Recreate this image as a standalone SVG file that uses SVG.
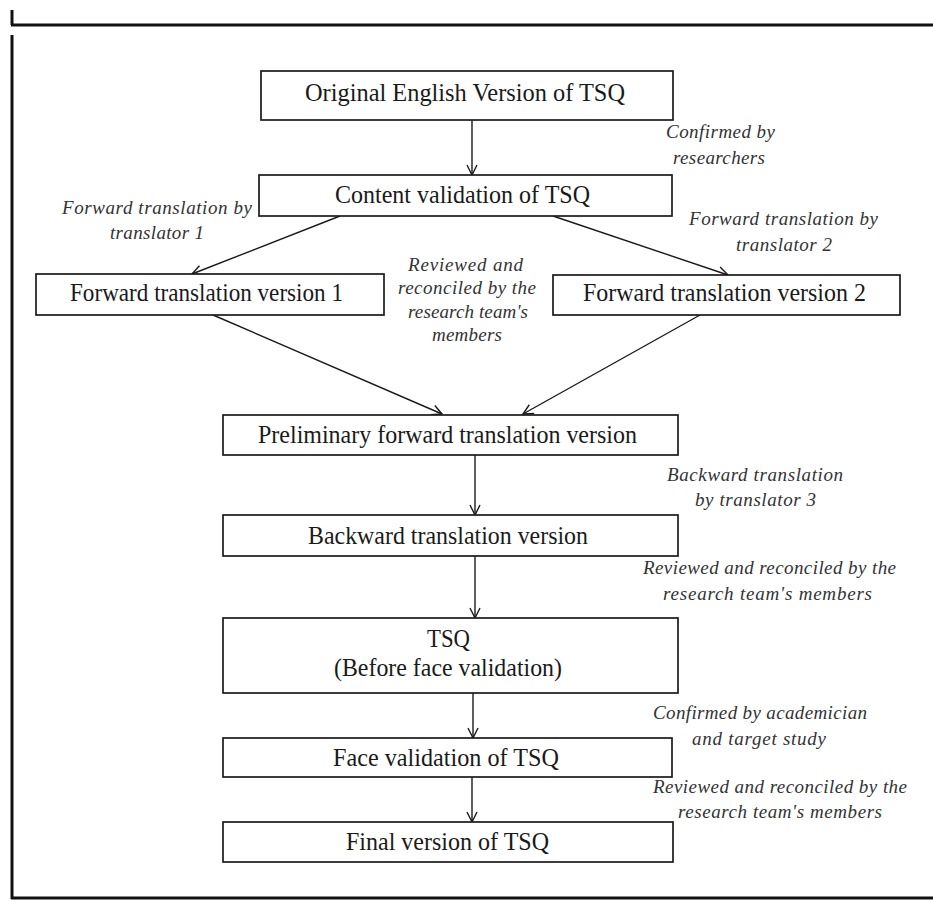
<svg xmlns="http://www.w3.org/2000/svg" width="933" height="900" viewBox="0 0 933 900">
<style>
.frame{stroke:#111;stroke-width:3;fill:none}
.box{fill:#fff;stroke:#1a1a1a;stroke-width:1.7}
.t{font-family:"Liberation Serif","Times New Roman",serif;font-size:26px;fill:#1a1a1a;text-anchor:middle}
.l{font-family:"Liberation Serif","Times New Roman",serif;font-size:19px;font-style:italic;fill:#333;text-anchor:middle}
.c{stroke:#1a1a1a;stroke-width:1.4;fill:none;marker-end:url(#ah)}
</style>
<defs>
<marker id="ah" markerUnits="userSpaceOnUse" markerWidth="12" markerHeight="12" refX="11" refY="6" orient="auto">
<path d="M1,1 L11,6 L1,11" fill="none" stroke="#1a1a1a" stroke-width="1.4"/>
</marker>
</defs>
<rect width="933" height="900" fill="#fff"/>
<g id="frame">
<line class="frame" x1="12" y1="10" x2="12" y2="25"/>
<line class="frame" x1="11" y1="25" x2="933" y2="25"/>
<line class="frame" x1="12" y1="35" x2="12" y2="899"/>
<line class="frame" x1="11" y1="898" x2="933" y2="898"/>
</g>
<g id="connectors">
<line class="c" x1="472" y1="120" x2="472" y2="175"/>
<line class="c" x1="340" y1="216" x2="192" y2="274"/>
<line class="c" x1="553" y1="216" x2="728" y2="275"/>
<line class="c" x1="213" y1="315" x2="442" y2="414"/>
<line class="c" x1="700" y1="315" x2="523" y2="414"/>
<line class="c" x1="475" y1="455" x2="475" y2="515"/>
<line class="c" x1="475" y1="556" x2="475" y2="618"/>
<line class="c" x1="473" y1="693" x2="473" y2="738"/>
<line class="c" x1="472" y1="777" x2="472" y2="822"/>
</g>
<g id="n1"><rect class="box" x="261" y="71" width="412" height="49"/><text class="t" x="465" y="101" textLength="320" lengthAdjust="spacingAndGlyphs">Original English Version of TSQ</text></g>
<g id="n2"><rect class="box" x="259" y="175" width="413" height="41"/><text class="t" x="462.5" y="203" textLength="255" lengthAdjust="spacingAndGlyphs">Content validation of TSQ</text></g>
<g id="n3"><rect class="box" x="36" y="274" width="348" height="41"/><text class="t" x="206.5" y="301" textLength="273" lengthAdjust="spacingAndGlyphs">Forward translation version 1</text></g>
<g id="n4"><rect class="box" x="553" y="275" width="347" height="40"/><text class="t" x="724.5" y="301" textLength="283" lengthAdjust="spacingAndGlyphs">Forward translation version 2</text></g>
<g id="n5"><rect class="box" x="223" y="415" width="455" height="40"/><text class="t" x="447.5" y="443" textLength="379" lengthAdjust="spacingAndGlyphs">Preliminary forward translation version</text></g>
<g id="n6"><rect class="box" x="223" y="515" width="455" height="41"/><text class="t" x="448" y="544" textLength="280" lengthAdjust="spacingAndGlyphs">Backward translation version</text></g>
<g id="n7"><rect class="box" x="223" y="618" width="455" height="75"/><text class="t" x="448.5" y="647" textLength="43" lengthAdjust="spacingAndGlyphs">TSQ</text><text class="t" x="448" y="676" textLength="228" lengthAdjust="spacingAndGlyphs">(Before face validation)</text></g>
<g id="n8"><rect class="box" x="223" y="738" width="449" height="39"/><text class="t" x="446" y="766" textLength="226" lengthAdjust="spacingAndGlyphs">Face validation of TSQ</text></g>
<g id="n9"><rect class="box" x="223" y="822" width="450" height="40"/><text class="t" x="447.5" y="850" textLength="203" lengthAdjust="spacingAndGlyphs">Final version of TSQ</text></g>
<g id="labels">
<text class="l" x="720.5" y="138" textLength="109">Confirmed by</text>
<text class="l" x="719" y="164" textLength="92">researchers</text>
<text class="l" x="157" y="214" textLength="190">Forward translation by</text>
<text class="l" x="157" y="239" textLength="94">translator 1</text>
<text class="l" x="783.5" y="225" textLength="189">Forward translation by</text>
<text class="l" x="784" y="251" textLength="96">translator 2</text>
<text class="l" x="465.5" y="271" textLength="115">Reviewed and</text>
<text class="l" x="467" y="294" textLength="138">reconciled by the</text>
<text class="l" x="468" y="318" textLength="120">research team's</text>
<text class="l" x="467" y="341" textLength="70">members</text>
<text class="l" x="755" y="481" textLength="176">Backward translation</text>
<text class="l" x="755.5" y="506" textLength="121">by translator 3</text>
<text class="l" x="769.5" y="574" textLength="253">Reviewed and reconciled by the</text>
<text class="l" x="767.5" y="600" textLength="209">research team's members</text>
<text class="l" x="760" y="719" textLength="214">Confirmed by academician</text>
<text class="l" x="759" y="745" textLength="134">and target study</text>
<text class="l" x="780" y="793" textLength="254">Reviewed and reconciled by the</text>
<text class="l" x="780" y="818" textLength="204">research team's members</text>
</g>
</svg>
